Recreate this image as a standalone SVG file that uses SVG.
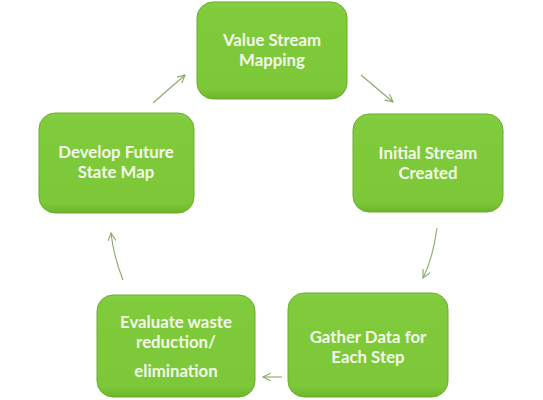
<svg xmlns="http://www.w3.org/2000/svg" width="543" height="400" viewBox="0 0 543 400">
<style>
.box{fill:url(#g);stroke:#6aae2c;stroke-width:1}
.lbl{font-family:Lato,"Open Sans","Liberation Sans",sans-serif;font-weight:bold;font-size:16.8px;fill:#f4f8ea;text-anchor:middle}
.con{fill:none;stroke:#8aa86a;stroke-width:1.1;marker-end:url(#ah)}
</style>
<defs>
<linearGradient id="g" x1="0" y1="0" x2="0" y2="1">
<stop offset="0" stop-color="#86d046"/>
<stop offset="0.08" stop-color="#7fcb3c"/>
<stop offset="0.9" stop-color="#7cc838"/>
<stop offset="1" stop-color="#6cb52c"/>
</linearGradient>
<marker id="ah" markerWidth="10" markerHeight="10" refX="8" refY="4" orient="auto" markerUnits="userSpaceOnUse">
<path d="M0,0 L8,4 L0,8" fill="none" stroke="#8aa86a" stroke-width="1.1"/>
</marker>
</defs>
<rect width="543" height="400" fill="#ffffff"/>
<g id="connectors">
<path class="con" d="M153,103 L185,75"/>
<path class="con" d="M361,75 L393,102"/>
<path class="con" d="M437,228 Q433,258 423,278"/>
<path class="con" d="M282,377 L263,377"/>
<path class="con" d="M123,280 Q114,258 111,233"/>
</g>
<g id="n1">
<rect class="box" x="197" y="2" width="150" height="97" rx="16"/>
<text class="lbl" x="272" y="46">Value Stream</text>
<text class="lbl" x="272" y="66">Mapping</text>
</g>
<g id="n2">
<rect class="box" x="353" y="114" width="150" height="98" rx="16"/>
<text class="lbl" x="428" y="159">Initial Stream</text>
<text class="lbl" x="428" y="179">Created</text>
</g>
<g id="n3">
<rect class="box" x="288" y="293" width="160" height="104" rx="16"/>
<text class="lbl" x="368" y="343">Gather Data for</text>
<text class="lbl" x="368" y="363">Each Step</text>
</g>
<g id="n4">
<rect class="box" x="97" y="295" width="158" height="102" rx="16"/>
<text class="lbl" x="176" y="328">Evaluate waste</text>
<text class="lbl" x="176" y="348">reduction/</text>
<text class="lbl" x="176" y="377">elimination</text>
</g>
<g id="n5">
<rect class="box" x="39" y="113" width="155" height="100" rx="16"/>
<text class="lbl" x="116" y="158">Develop Future</text>
<text class="lbl" x="116" y="178">State Map</text>
</g>
</svg>
